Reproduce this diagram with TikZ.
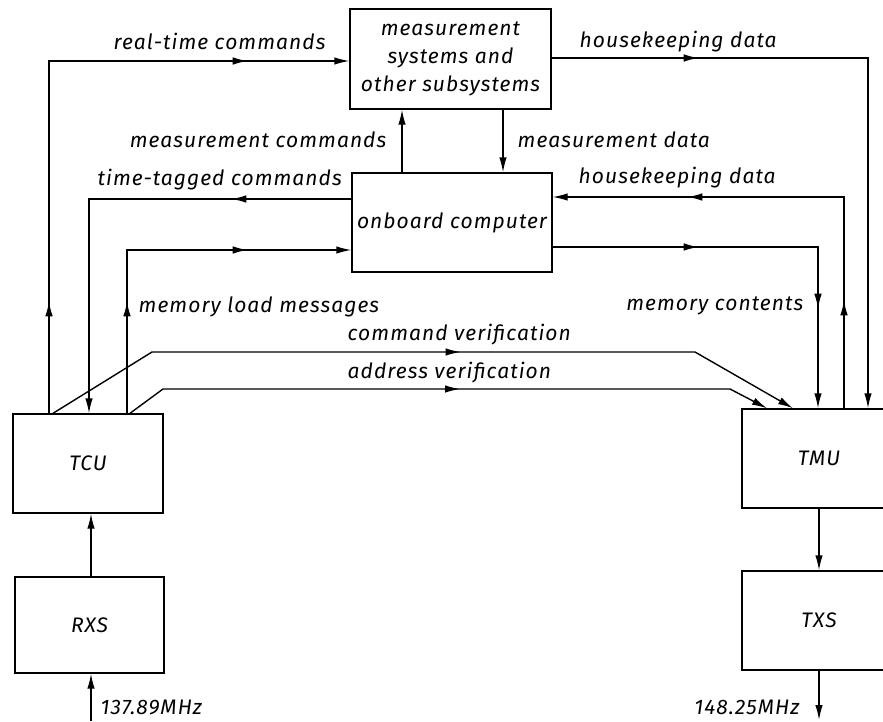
\documentclass[tikz,border=0pt]{standalone}
\usepackage{fontspec}
\setmainfont{Fira Sans}[LetterSpace=5]
\usetikzlibrary{arrows.meta,decorations.markings}
\begin{document}
\begin{tikzpicture}[x=1pt,y=-1pt,line width=1.4pt,
  >={Latex[length=15pt,width=7.5pt]},
  every node/.style={font=\itshape\fontsize{21}{28}\selectfont},
  box/.style={draw,line width=1.4pt,inner sep=0pt,align=center},
  lbl/.style={inner sep=0pt},
  am/.style={postaction={decorate,decoration={markings,mark=at position #1 with {\arrow{>}}}}}]
\useasboundingbox (0,0) rectangle (883,721);
% boxes
\node[box,minimum width=201pt,minimum height=100pt] (ms) at (450.5,59) {measurement\\systems and\\other subsystems};
\node[box,minimum width=200pt,minimum height=99pt] (obc) at (452,222.5) {onboard computer};
\node[box,minimum width=150pt,minimum height=99pt] (tcu) at (88,463.5) {TCU};
\node[box,minimum width=149pt,minimum height=96pt] (rxs) at (89.5,625) {RXS};
\node[box,minimum width=154pt,minimum height=99pt] (tmu) at (819,458.5) {TMU};
\node[box,minimum width=154pt,minimum height=99pt] (txs) at (819,620.5) {TXS};
% corner coordinates
\coordinate (rt) at (49,61);
\coordinate (tt) at (89,199);
\coordinate (ml) at (127,250);
\coordinate (mc) at (402,140);
\coordinate (md) at (503,140);
\coordinate (hka) at (868,58);
\coordinate (hkb) at (844,197);
\coordinate (mcn) at (818,247);
\coordinate (cva) at (53,0);
\coordinate (cvb) at (152,352);
\coordinate (cvc) at (695,352);
\coordinate (cvd) at (793,0);
\coordinate (ava) at (130,0);
\coordinate (avb) at (163,389);
\coordinate (avc) at (730,389);
\coordinate (avd) at (767,0);
\coordinate (inp) at (91,721);
\coordinate (outp) at (819,720);
% connectors
\draw[->,am=112pt,am=551pt] (tcu.north -| rt) -- (rt) -- (ms.west |- rt);
\draw[->,am=120pt] (obc.west |- tt) -- (tt) -- (tcu.north -| tt);
\draw[->,am=112pt,am=284pt] (tcu.north -| ml) -- (ml) -- (obc.west |- ml);
\draw[->] (obc.north -| mc) -- (ms.south -| mc);
\draw[->] (ms.south -| md) -- (obc.north -| md);
\draw[->,am=147pt] (ms.east |- hka) -- (hka) -- (tmu.north -| hka);
\draw[->,am=108pt,am=368pt] (tmu.north -| hkb) -- (hkb) -- (obc.east |- hkb);
\draw[->,am=146pt,am=327pt] (obc.east |- mcn) -- (mcn) -- (tmu.north -| mcn);
\draw[->,am=425pt] (tcu.north -| cva) -- (cvb) -- (cvc) -- (tmu.north -| cvd);
\draw[->,am=338pt] (tcu.north -| ava) -- (avb) -- (avc) -- (tmu.north -| avd);
\draw[->] (rxs.north -| inp) -- (tcu.south -| inp);
\draw[->] (inp) -- (rxs.south -| inp);
\draw[->] (tmu.south) -- (txs.north);
\draw[->] (txs.south) -- (outp);
% labels
\node[lbl,anchor=base west] (lrt) at (113,49) {real-time commands};
\node[lbl,anchor=base west] (ltt) at (97,185) {time-tagged commands};
\node[lbl,anchor=base east] (lmc) at (387,147) {measurement commands};
\node[lbl,anchor=base west] (lmd) at (517,147) {measurement data};
\node[lbl,anchor=base west] (lhka) at (579,47) {housekeeping data};
\node[lbl,anchor=base west] (lhkb) at (578,183) {housekeeping data};
\node[lbl,anchor=base west] (lml) at (138,312) {memory load messages};
\node[lbl,anchor=base east] (lmcn) at (804,310) {memory contents};
\node[lbl,anchor=base west] (lcv) at (347,340) {command verification};
\node[lbl,anchor=base west] (lav) at (347,378) {address verification};
\node[lbl,anchor=base west] (lin) at (100,714) {137.89MHz};
\node[lbl,anchor=base east] (lout) at (800,714) {148.25MHz};
\end{tikzpicture}
\end{document}
